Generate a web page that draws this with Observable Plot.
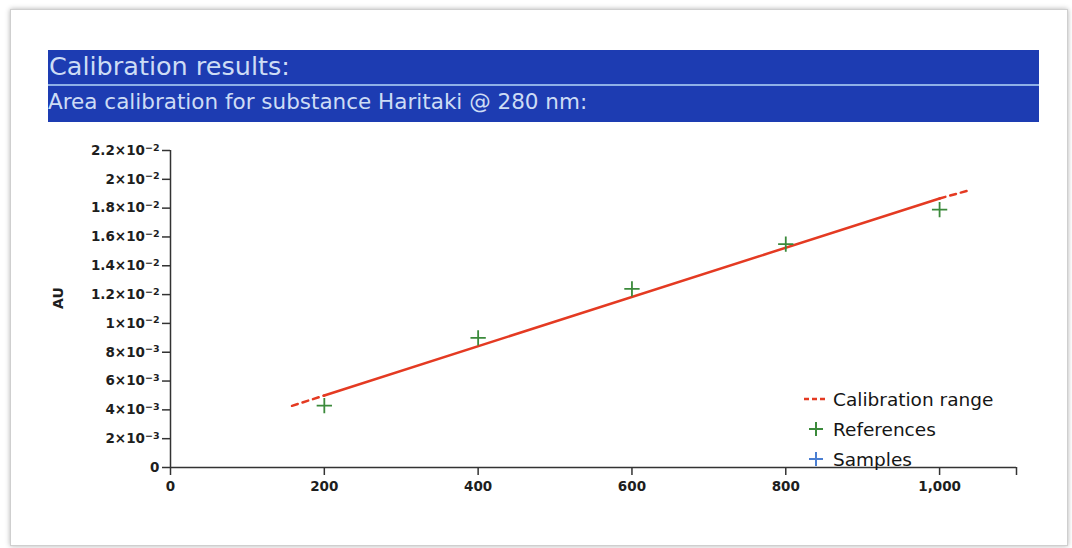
<!DOCTYPE html>
<html><head><meta charset="utf-8">
<script src="https://cdn.jsdelivr.net/npm/d3@7"></script>
<script src="https://cdn.jsdelivr.net/npm/@observablehq/plot@0.6"></script>
<style>
html,body{margin:0;padding:0;background:#fff}
body{width:1072px;height:548px;overflow:hidden;position:relative;font-family:"DejaVu Sans",sans-serif}
#frame{position:absolute;left:10px;top:9px;width:1056px;height:535px;border:1px solid #cfcfcf;box-shadow:0 0 5px rgba(0,0,0,0.3);background:#fff}
#band{position:absolute;left:48px;top:50px;width:991px;height:72px;background:#1d3cb2}
#title{position:absolute;left:1px;top:-1px;height:34px;line-height:34px;font-size:25.5px;color:#cddcf5;white-space:nowrap}
#sep{position:absolute;left:0;top:34px;width:100%;height:2px;background:#8fb0e6}
#subtitle{position:absolute;left:0px;top:37px;height:34px;line-height:30px;font-size:21.5px;color:#cddcf5;white-space:nowrap}
#chart{position:absolute;left:0;top:130px}
#legend{position:absolute;left:800px;top:384px;font-size:18.5px;color:#151515}
.row{display:flex;align-items:center;height:30px}
.row svg{width:30px;height:20px;margin-right:3px}
</style>
</head><body>
<div id="frame"></div>
<div id="band"><div id="title"></div><div id="sep"></div><div id="subtitle"></div></div>
<div id="chart"></div>
<div id="legend"></div>
<script>
const titleText = "Calibration results:";
const subtitleText = "Area calibration for substance Haritaki @ 280 nm:";
const yLabel = "AU";

// Reference points (quantity vs area)
const refX = [200, 400, 600, 800, 1000];
const refY = [0.0043, 0.0090, 0.0124, 0.0155, 0.0179];

// Calibration line (solid part) and dashed calibration-range extensions
const fitX = [200, 1000];
const fitY = [0.0050, 0.01867];
const lowX = [158, 200];
const lowY = [0.00428, 0.0050];
const highX = [1000, 1037];
const highY = [0.01867, 0.01922];

// Axis ticks
const xTicks = [0, 200, 400, 600, 800, 1000, 1100];
const xTickLabels = ["0", "200", "400", "600", "800", "1,000", ""];
const yTicks = [0, 0.002, 0.004, 0.006, 0.008, 0.010, 0.012, 0.014, 0.016, 0.018, 0.020, 0.022];
const yTickLabels = ["0", "2×10^-3", "4×10^-3", "6×10^-3", "8×10^-3", "1×10^-2", "1.2×10^-2", "1.4×10^-2", "1.6×10^-2", "1.8×10^-2", "2×10^-2", "2.2×10^-2"];

const legendItems = ["Calibration range", "References", "Samples"];
const red = "#e43a22", green = "#3b8a3b", blue = "#4a7ed2";

document.getElementById("title").textContent = titleText;
document.getElementById("subtitle").textContent = subtitleText;

const refs = refX.map((x, i) => ({x, y: refY[i]}));
const fit = fitX.map((x, i) => ({x, y: fitY[i]}));
const low = lowX.map((x, i) => ({x, y: lowY[i]}));
const high = highX.map((x, i) => ({x, y: highY[i]}));

const chart = Plot.plot({
  width: 1072,
  height: 390,
  marginLeft: 170,
  marginRight: 56,
  marginTop: 20,
  marginBottom: 53,
  style: {fontFamily: "DejaVu Sans, sans-serif", fontSize: "13.5px", fontWeight: "bold", color: "#1e1e1e", background: "transparent"},
  x: {domain: [0, 1100]},
  y: {domain: [0, 0.022]},
  marks: [
    Plot.axisX({ticks: xTicks, tickFormat: (d, i) => xTickLabels[i], tickSize: 8, tickPadding: 6, label: null, stroke: "#333", strokeWidth: 1.5}),
    Plot.axisY({ticks: yTicks, tickFormat: (d, i) => yTickLabels[i], tickSize: 8, tickPadding: 3, label: null, stroke: "#333", strokeWidth: 1.5}),
    Plot.ruleY([0], {stroke: "#333", strokeWidth: 1.5}),
    Plot.ruleX([0], {stroke: "#333", strokeWidth: 1.5}),
    Plot.line(low, {x: "x", y: "y", stroke: red, strokeWidth: 2.5, strokeDasharray: "6,5"}),
    Plot.line(high, {x: "x", y: "y", stroke: red, strokeWidth: 2.5, strokeDasharray: "6,5"}),
    Plot.line(fit, {x: "x", y: "y", stroke: red, strokeWidth: 2.5}),
    Plot.dot(refs, {x: "x", y: "y", symbol: "plus", r: 5, stroke: green, strokeWidth: 1.8}),
    Plot.text([yLabel], {frameAnchor: "left", dx: -112, rotate: -90, fontSize: 14, fontWeight: "bold", fill: "#1e1e1e"})
  ]
});
document.getElementById("chart").appendChild(chart);

// Render exponent part of y tick labels as superscript
d3.select(chart).selectAll('g[aria-label="y-axis tick label"] text').each(function() {
  const t = this.textContent;
  if (t.includes("^")) {
    const [base, exp] = t.split("^");
    const sel = d3.select(this);
    sel.text(base);
    sel.append("tspan").attr("dy", "-0.45em").attr("font-size", "9.5px").text(exp.replace("-", "−"));
  }
});

// Legend
const leg = document.getElementById("legend");
const icons = [
  `<svg viewBox="0 0 30 20"><line x1="4" y1="10" x2="26" y2="10" stroke="${red}" stroke-width="2.5" stroke-dasharray="5,3"/></svg>`,
  `<svg viewBox="0 0 30 20"><line x1="9" y1="10" x2="23" y2="10" stroke="${green}" stroke-width="2"/><line x1="16" y1="3" x2="16" y2="17" stroke="${green}" stroke-width="2"/></svg>`,
  `<svg viewBox="0 0 30 20"><line x1="9" y1="10" x2="23" y2="10" stroke="${blue}" stroke-width="2"/><line x1="16" y1="3" x2="16" y2="17" stroke="${blue}" stroke-width="2"/></svg>`
];
legendItems.forEach((t, i) => {
  const r = document.createElement("div");
  r.className = "row";
  r.innerHTML = icons[i] + "<span></span>";
  r.querySelector("span").textContent = t;
  leg.appendChild(r);
});
</script>
</body></html>
